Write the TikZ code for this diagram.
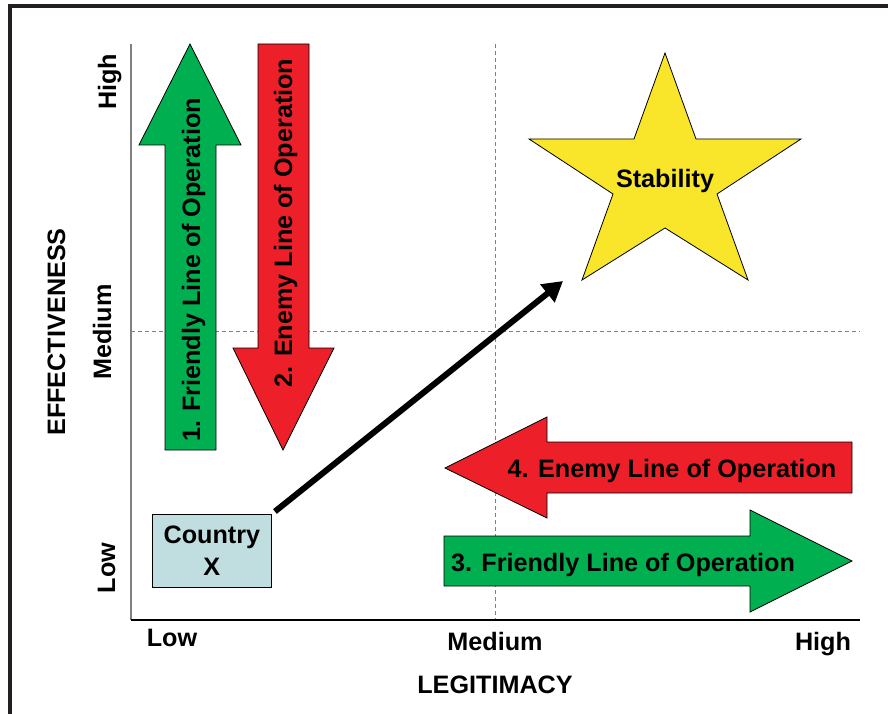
\documentclass[tikz,border=0pt]{standalone}
\usepackage{fontspec}
\setmainfont{Liberation Sans}
\usetikzlibrary{arrows.meta}
\definecolor{lolgreen}{HTML}{00B050}
\definecolor{lolred}{HTML}{ED2029}
\definecolor{staryellow}{HTML}{F9E52A}
\definecolor{countryblue}{HTML}{C0DEDF}
\definecolor{framegray}{HTML}{231F20}
\tikzset{%
  >={Triangle[length=20pt,width=22pt]},
  % Specifications for the pieces of the chart:
  base/.style = {
    font=\fontsize{25.2}{32}\selectfont\bfseries,
    inner sep=0pt,
    text centered
  },
  axistext/.style={base, anchor=base},
  uptext/.style={base, anchor=base, rotate=90},
  block/.style={draw=black, line width=0.8pt},
  friendly/.style={block, fill=lolgreen},
  enemy/.style={block, fill=lolred},
  midline/.style={draw=gray, dash pattern=on 4pt off 3pt, line width=1pt},
}

\begin{document}
\begin{tikzpicture}[x=1pt, y=-1pt]
  \useasboundingbox (0,0) rectangle (888,714);
  % frame and axes
  \draw[framegray, line width=4pt] (10,714) -- (10,6.5) -- (888,6.5);
  \draw[midline] (131,331) -- (860,331);
  \draw[midline] (495,44) -- (495,620);
  \draw[gray, line width=1.2pt] (131,44) -- (131,620);
  \draw[black, line width=1.5pt] (131,620) -- (860,620);
  % lines of operation
  \draw[friendly] (190,44) -- (241,145) -- (216,145) -- (216,450)
    -- (165,450) -- (165,145) -- (139,145) -- cycle;
  \node (line1) [uptext] at (200,270) {1. Friendly Line of Operation};
  \draw[enemy] (283,450) -- (334,348) -- (309,348) -- (309,44)
    -- (258,44) -- (258,348) -- (233,348) -- cycle;
  \node (line2) [uptext] at (292,223) {2. Enemy Line of Operation};
  \draw[enemy] (445,468) -- (547,417) -- (547,442) -- (852,442)
    -- (852,493) -- (547,493) -- (547,518) -- cycle;
  \node (line4) [axistext] at (672,477) {4. Enemy Line of Operation};
  \draw[friendly] (852,561) -- (750,510) -- (750,536) -- (444,536)
    -- (444,586) -- (750,586) -- (750,612) -- cycle;
  \node (line3) [axistext] at (623,571) {3. Friendly Line of Operation};
  % goal
  \draw[block, fill=staryellow] (665,53) -- (696,139) -- (801,139) -- (717,194)
    -- (748,280) -- (665,228) -- (582,280) -- (613,194) -- (529,139)
    -- (634,139) -- cycle;
  \node (stability) [axistext] at (665,188) {Stability};
  \coordinate (goal) at (563,281);
  % start
  \node (country) [base, block, fill=countryblue, align=center,
    minimum width=119pt, minimum height=73pt, anchor=north west]
    at (152,514) {Country\\X};
  \draw[->, line width=6pt, shorten <=4pt] (country.north east) -- (goal);
  % axis labels
  \node (effhigh) [uptext] at (116,82) {High};
  \node (effmed) [uptext] at (111,332) {Medium};
  \node (efflow) [uptext] at (115,568) {Low};
  \node (efftitle) [uptext] at (65,332) {EFFECTIVENESS};
  \node (leglow) [axistext] at (172,646) {Low};
  \node (legmed) [axistext] at (495,650) {Medium};
  \node (leghigh) [axistext] at (823,650) {High};
  \node (legtitle) [axistext] at (495,693) {LEGITIMACY};
\end{tikzpicture}
\end{document}
